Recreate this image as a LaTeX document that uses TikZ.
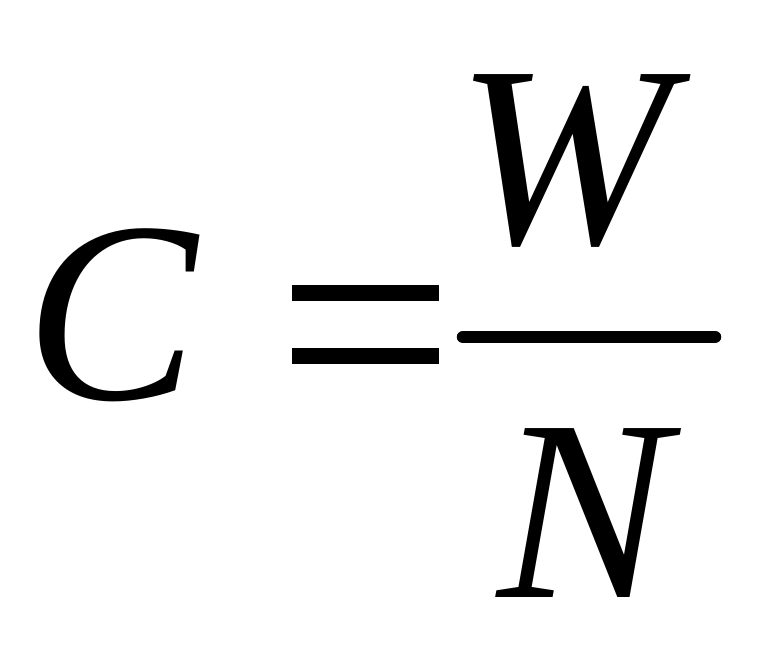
\documentclass[tikz,border=0pt]{standalone}
\usepackage{fontspec}
\setmainfont{Liberation Serif}
\begin{document}
\begin{tikzpicture}[x=1pt,y=1pt,
  glyph/.style={inner sep=0pt, outer sep=0pt, font=\fontsize{258}{258}\selectfont\itshape, anchor=base},
  barfill/.style={fill=black, draw=none}]
\useasboundingbox (0,0) rectangle (764,654);
\node[glyph] (c) at (112,254) {C};
\node[glyph] (w) at (564,410) {W};
\node[glyph] (n) at (584,56) {N};
\path[barfill] (292,353) rectangle (439,369);
\path[barfill] (292,290) rectangle (439,306);
\coordinate (fl) at (463,317);
\coordinate (fr) at (715,317);
\draw[line width=12.5pt, line cap=round] (fl) -- (fr);
\end{tikzpicture}
\end{document}
